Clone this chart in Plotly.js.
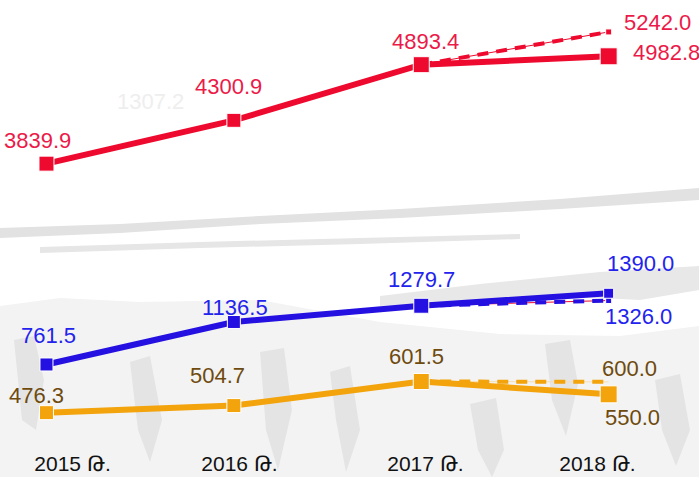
<!DOCTYPE html>
<html>
<head>
<meta charset="utf-8">
<script src="https://cdn.plot.ly/plotly-3.0.1.min.js"></script>
<style>
  html, body { margin: 0; padding: 0; background: #fff; }
  #chart { width: 699px; height: 477px; }
</style>
</head>
<body>
<div id="chart"></div>
<script>
// years on the x axis
var years = ['2015 Թ.', '2016 Թ.', '2017 Թ.', '2018 Թ.'];
var yearIdx = [0, 1, 2, 3];
var planIdx = [2, 3];

// actual values
var redFact = [3839.9, 4300.9, 4893.4, 4982.8];
var blueFact = [761.5, 1136.5, 1279.7, 1390.0];
var orangeFact = [476.3, 504.7, 601.5, 550.0];

// 2017 -> 2018 plan
var redPlan = [4893.4, 5242.0];
var bluePlan = [1279.7, 1326.0];
var orangePlan = [601.5, 600.0];

// faint leftover label on the picture
var ghostLabel = '1307.2';

var RED = '#ee0a2e', RED_TXT = '#ec1a48';
var BLUE = '#2410e0', BLUE_TXT = '#2323ee';
var ORANGE = '#f3a30c', ORANGE_TXT = '#6e4a0e';
var FONT = 'Liberation Sans, Arial, sans-serif';

function factTrace(y, color, sizes, yax) {
    return {
        x: yearIdx, y: y, yaxis: yax, type: 'scatter', mode: 'lines+markers',
        line: { color: color, width: 6 },
        marker: { symbol: 'square', size: sizes, color: color, opacity: 1 },
        hoverinfo: 'skip'
    };
}
function planTraces(y, color, thin, endSize, yax) {
    return [
        { x: planIdx, y: y, yaxis: yax, type: 'scatter', mode: 'lines',
          line: { color: thin, width: 1 }, hoverinfo: 'skip' },
        { x: planIdx, y: y, yaxis: yax, type: 'scatter', mode: endSize ? 'lines+markers' : 'lines',
          line: { color: color, width: 4, dash: '11px,8px' },
          marker: { symbol: 'square', size: [0, endSize || 0], color: color, opacity: 1 },
          hoverinfo: 'skip' }
    ];
}

var data = []
    .concat(planTraces(redPlan, RED, RED, 6, 'y'))
    .concat(planTraces(bluePlan, BLUE, RED, 6, 'y2'))
    .concat(planTraces(orangePlan, ORANGE, '#f6dfb0', 0, 'y3'))
    .concat([factTrace(redFact, RED, [15, 14, 16, 17], 'y'),
             factTrace(blueFact, BLUE, [13, 13, 15, 10], 'y2'),
             factTrace(orangeFact, ORANGE, [14, 14, 16, 17], 'y3')]);

// value labels (shifts in px from the point)
function labels(xs, ys, yref, color, shifts) {
    return ys.map(function (v, i) {
        return {
            x: xs[i], y: v, xref: 'x', yref: yref, text: v.toFixed(1),
            showarrow: false, xshift: shifts[i][0], yshift: shifts[i][1],
            font: { family: FONT, size: 22, color: color }
        };
    });
}

var annotations = []
    .concat(labels(yearIdx, redFact, 'y', RED_TXT, [[-9, 23], [-5, 34], [4, 23], [58, 4]]))
    .concat(labels([3], [redPlan[1]], 'y', RED_TXT, [[49, 9]]))
    .concat(labels(yearIdx, blueFact, 'y2', BLUE_TXT, [[2, 29], [1, 14], [0, 26], [32, 30]]))
    .concat(labels([3], [bluePlan[1]], 'y2', BLUE_TXT, [[30, -16]]))
    .concat(labels(yearIdx, orangeFact, 'y3', ORANGE_TXT, [[-10, 17], [-16, 30], [-5, 25], [24, -23]]))
    .concat(labels([3], [orangePlan[1]], 'y3', ORANGE_TXT, [[21, 13]]));

annotations.push({
    x: 115 / 699, y: 1 - 87 / 440, xref: 'paper', yref: 'paper', text: ghostLabel,
    showarrow: false, font: { family: FONT, size: 22, color: '#eeeeee' }
});

// grey brush texture behind the lines (pixel points -> paper)
function brush(pts, fill) {
    var d = pts.map(function (p, i) {
        return (i ? 'L' : 'M') + (p[0] / 699).toFixed(4) + ',' + (1 - p[1] / 440).toFixed(4);
    }).join(' ') + ' Z';
    return { type: 'path', xref: 'paper', yref: 'paper', path: d, layer: 'below',
             fillcolor: fill, line: { width: 0 } };
}
var shapes = [
    brush([[0, 228], [120, 224], [260, 216], [400, 209], [560, 199], [699, 188], [699, 200], [560, 209], [400, 218], [260, 224], [120, 233], [0, 238]], '#e2e2e2'),
    brush([[40, 247], [200, 242], [360, 238], [520, 234], [520, 239], [360, 244], [200, 248], [40, 253]], '#e6e6e6'),
    brush([[380, 296], [480, 284], [600, 272], [699, 266], [699, 290], [640, 300], [560, 296], [480, 302], [380, 306]], '#e8e8e8'),
    brush([[0, 306], [60, 298], [140, 302], [260, 300], [380, 322], [500, 334], [620, 336], [699, 326], [699, 477], [0, 477]], '#f3f3f3'),
    brush([[14, 340], [34, 336], [44, 380], [36, 430], [22, 420]], '#e4e4e4'),
    brush([[130, 362], [150, 356], [162, 420], [150, 462], [138, 430]], '#e4e4e4'),
    brush([[260, 352], [284, 348], [292, 410], [278, 470], [266, 430]], '#e4e4e4'),
    brush([[330, 372], [350, 366], [360, 430], [346, 472], [336, 420]], '#e4e4e4'),
    brush([[470, 404], [496, 398], [504, 450], [492, 477], [478, 450]], '#e4e4e4'),
    brush([[545, 344], [570, 340], [578, 384], [566, 436], [552, 400]], '#e4e4e4'),
    brush([[655, 380], [680, 374], [690, 430], [676, 466], [662, 430]], '#e4e4e4')
];

var hidden = { showgrid: false, zeroline: false, showticklabels: false, showline: false, fixedrange: true };

var layout = {
    width: 699, height: 477,
    margin: { l: 0, r: 0, t: 0, b: 37 },
    paper_bgcolor: '#ffffff', plot_bgcolor: 'rgba(0,0,0,0)',
    showlegend: false,
    font: { family: FONT },
    xaxis: {
        range: [-0.248, 3.482], showgrid: false, zeroline: false, showline: false,
        tickmode: 'array', tickvals: [0.139, 1.03, 2.022, 2.94], ticktext: years,
        ticks: '', ticklabelstandoff: 9,
        tickfont: { size: 21, color: '#111111' }
    },
    yaxis: Object.assign({ range: [898, 5582] }, hidden),
    yaxis2: Object.assign({ range: [95, 3978], overlaying: 'y' }, hidden),
    yaxis3: Object.assign({ range: [366.4, 2134.9], overlaying: 'y' }, hidden),
    annotations: annotations,
    shapes: shapes
};

Plotly.newPlot('chart', data, layout, { displayModeBar: false, staticPlot: true });
</script>
</body>
</html>
